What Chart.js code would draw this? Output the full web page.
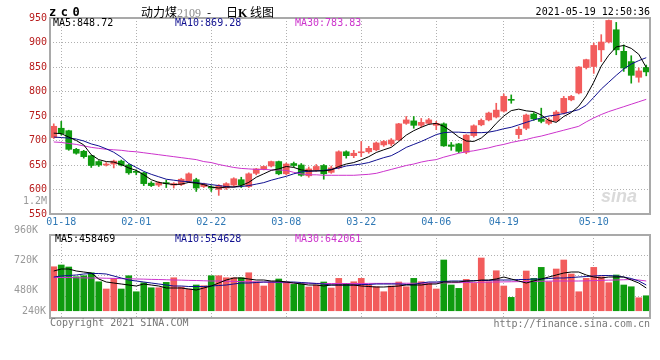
<!DOCTYPE html>
<html>
<head>
<meta charset="utf-8">
<script src="https://cdn.jsdelivr.net/npm/chart.js@4.4.1/dist/chart.umd.min.js"></script>
<style>
  body { margin: 0; background: #fff; }
  #wrap { position: relative; width: 660px; height: 360px; overflow: hidden; background: #fff; }
  canvas { position: absolute; left: 0; }
  .t { position: absolute; white-space: nowrap; font: 10px/12px "DejaVu Sans Mono", monospace; color: #000; }
</style>
</head>
<body>
<div id="wrap">
  <canvas id="price" width="660" height="232" style="top:0"></canvas>
  <canvas id="volume" width="660" height="142" style="top:218px"></canvas>

  <div class="t" style="left:49px;top:6px;font-weight:bold;font-size:12px;letter-spacing:4.5px">zc0</div>
  <div class="t" style="left:141px;top:5px;font:12px/14px 'Noto Sans CJK SC'">动力煤<span style="color:#8a8a8a;font-family:'Liberation Serif'">2109</span></div>
  <div class="t" style="left:207px;top:5px;font:12px/14px 'Noto Sans CJK SC'">-</div>
  <div class="t" style="left:226px;top:5px;font:12px/14px 'Noto Sans CJK SC'">日<b style="font-family:'Liberation Serif'">K</b> 线图</div>
  <div class="t" style="right:10px;top:6px">2021-05-19 12:50:36</div>

  <div class="t" style="left:53px;top:17px">MA5:848.72</div>
  <div class="t" style="left:175px;top:17px;color:#101090">MA10:869.28</div>
  <div class="t" style="left:295px;top:17px;color:#cc33cc">MA30:783.83</div>
  <div class="t" style="right:613px;top:195px;color:#999">1.2M</div>
  <div class="t" style="left:601px;top:186px;font:italic bold 18px/20px 'Liberation Sans';color:#dadada">sina</div>

  <div class="t" style="left:55px;top:233px">MA5:458469</div>
  <div class="t" style="left:175px;top:233px;color:#101090">MA10:554628</div>
  <div class="t" style="left:295px;top:233px;color:#cc33cc">MA30:642061</div>
  <div class="t" style="right:614px;top:305px;color:#999">240K</div>

  <div class="t" style="left:50px;top:317px;color:#777">Copyright 2021 SINA.COM</div>
  <div class="t" style="right:10px;top:318px;color:#777">http://finance.sina.com.cn</div>
</div>
<script>
// trading days shown on the daily K chart
const dates = [
  '01-15','01-18','01-19','01-20','01-21','01-22','01-25','01-26','01-27','01-28','01-29',
  '02-01','02-02','02-03','02-04','02-05','02-08','02-09','02-10','02-18','02-19',
  '02-22','02-23','02-24','02-25','02-26',
  '03-01','03-02','03-03','03-04','03-05','03-08','03-09','03-10','03-11','03-12',
  '03-15','03-16','03-17','03-18','03-19','03-22','03-23','03-24','03-25','03-26',
  '03-29','03-30','03-31','04-01','04-02','04-06','04-07','04-08','04-09',
  '04-12','04-13','04-14','04-15','04-16','04-19','04-20','04-21','04-22','04-23',
  '04-26','04-27','04-28','04-29','04-30','05-06','05-07','05-10','05-11','05-12',
  '05-13','05-14','05-17','05-18','05-19'
];
const tickDates = ['01-18', '02-01', '02-22', '03-08', '03-22', '04-06', '04-19', '05-10'];
const priceTicks = [550, 600, 650, 700, 750, 800, 850, 900, 950];
const volTicks = [960000, 720000, 480000];

const opens = [706,725,720,682,678,669,657,650,652,658, 650,637,634,613,609,614,609,610,617,620,
  606,605,600,603,609,620,606,633,642,648, 657,632,653,650,628,640,649,635,644,677,
  669,675,677,681,691,693,701,735,740,731, 735,731,734,691,693,676,710,732,742,748,
  760,784,712,725,754,744,735,740,756,783, 797,849,851,885,901,926,882,861,829,849];
const highs = [734,739,721,684,680,670,659,655,660,660, 652,640,635,616,616,619,614,623,634,623,
  613,608,610,614,624,625,634,643,648,658, 658,654,656,653,646,651,651,648,679,679,
  680,698,688,697,700,704,735,749,749,745, 745,739,736,696,694,712,732,744,758,776,
  795,793,728,754,757,766,746,761,790,792, 851,866,899,916,946,941,895,873,848,854];
const lows = [704,711,680,672,664,645,647,648,644,648, 631,630,608,606,606,604,603,608,614,596,
  604,596,588,600,606,604,604,630,640,646, 630,630,646,627,625,637,621,633,642,664,
  665,667,674,679,688,689,700,733,725,727, 733,722,688,680,675,673,707,730,740,746,
  758,776,704,722,741,736,732,739,754,781, 795,846,837,861,899,875,841,817,819,832];
const closes = [729,714,682,674,667,649,650,652,658,650, 634,635,612,608,614,612,612,621,632,603,
  611,603,608,612,622,609,632,642,647,657, 632,652,649,629,642,647,632,644,677,669,
  674,677,684,695,698,701,734,742,731,737, 742,735,689,688,678,711,730,741,756,762,
  790,782,723,752,744,739,742,758,786,790, 850,865,894,901,945,885,848,833,842,840];

const ma5 = [715,714,707,700,691,671,661,657,656,651, 644,639,630,620,614.5,612,610,611,614.5,613,
  610,605,603,605,605,608,614.5,625,632,639, 642,647,645,640,638,638,638,640,647,652,
  655,660.5,667,675.5,681,686,698,711,720,727, 733,735,729,719,707,699,698,705,718,735,
  750,761,764,760.5,759,752,741,737,749,757, 770,791,819,852,874,891,894,888,876,849];
const ma10 = [707,706,705,703,699,693,689,683,676,666, 653,645,637,631,626,621,619,617,616,614,
  612,610,608,606,605,606,608,611,614,619, 623,627,632,636,637,638,639,641,644,648,
  650,652,655,660,665,669,677,686,692,698, 705,712,716,717,717,716,716,716,717,720,
  724,727,732,737,742,746,750,752,755,759, 763,772,788,805,819,833,846,856,863,869];
const ma30 = [697,696,694,692,689,686,684,682,681,680, 678,677,675,673,671,669,667,665,663,661,
  657,655,651,648,645,643,642,641,641,640, 640,639,635,632,630,630,629,629,629,629,
  629,630,631,633,637,641,645,649,652,656, 659,661,666,670,674,677,679,682,685,689,
  692,696,699,702,706,709,713,717,721,725, 729,738,746,753,759,764,769,774,779,784];

const volumes = [672000,686000,670000,592000,600000,624000,552000,494000,579000,494000,
  600000,472000,544000,504000,504000,547000,584000,510000,494000,526000,
  520000,600000,600000,584000,584000,584000,624000,552000,518000,552000,
  574000,552000,531000,539000,510000,526000,550000,502000,579000,539000,
  552000,579000,526000,512000,472000,518000,550000,512000,579000,552000,
  539000,494000,726000,526000,499000,571000,539000,742000,552000,640000,
  518000,427000,499000,638000,579000,667000,552000,654000,726000,614000,
  472000,579000,667000,592000,544000,606000,526000,512000,424000,440000];
const volMa5 = [638000,654000,654000,638000,630000,622000,574000,550000,542000,534000,
  526000,518000,534000,526000,518000,502000,502000,502000,494000,486000,
  502000,518000,542000,566000,582000,582000,574000,566000,566000,558000,
  558000,550000,542000,534000,526000,526000,518000,526000,526000,526000,
  526000,518000,514000,510000,510000,514000,518000,526000,526000,526000,
  534000,534000,550000,550000,550000,558000,558000,566000,566000,574000,
  590000,574000,558000,542000,558000,574000,590000,606000,622000,630000,
  630000,606000,590000,582000,590000,590000,590000,566000,542000,502000];
const volMa10 = [590000,598000,602000,606000,614000,618000,618000,614000,598000,582000,
  566000,558000,550000,542000,534000,526000,518000,518000,514000,514000,
  514000,518000,522000,526000,534000,542000,542000,546000,550000,550000,
  550000,550000,550000,546000,542000,538000,534000,526000,526000,526000,
  526000,530000,530000,534000,534000,534000,534000,530000,530000,542000,
  550000,550000,554000,558000,558000,558000,562000,562000,562000,566000,
  566000,566000,570000,570000,574000,574000,578000,582000,582000,586000,
  590000,594000,598000,602000,602000,598000,590000,578000,558000,526000];
const volMa30 = [586000,586000,586000,584000,583000,582000,582000,580000,579000,577000,
  576000,574000,573000,571000,570000,568000,566000,565000,563000,562000,
  560000,558000,558000,556000,555000,553000,552000,550000,549000,547000,
  546000,544000,542000,541000,540000,539000,538000,538000,538000,538000,
  538000,538000,539000,539000,539000,539000,540000,540000,540000,541000,
  542000,542000,543000,544000,545000,546000,547000,548000,549000,550000,
  551000,552000,553000,554000,555000,556000,557000,558000,558000,558000,
  558000,559000,561000,563000,565000,566000,568000,570000,566000,558000];

const RED = '#f25c5c';
const GREEN = '#0f9b0f';
const GRID = '#b0b0b0';
const MONO = 'DejaVu Sans Mono';

const candleColors = closes.map((c, i) => (c >= opens[i] ? RED : GREEN));

// gray box round each panel
const frame = {
  id: 'frame',
  afterDraw(chart) {
    const { ctx, chartArea: a } = chart;
    ctx.save();
    ctx.strokeStyle = '#a9a9a9';
    ctx.lineWidth = 2;
    ctx.strokeRect(a.left, a.top, a.right - a.left, a.bottom - a.top);
    ctx.restore();
  }
};

const dateGrid = ctx => (tickDates.includes(dates[ctx.index]) ? GRID : 'rgba(0,0,0,0)');

function maLine(label, data, color) {
  return {
    type: 'line', label, data,
    borderColor: color, borderWidth: 1,
    pointRadius: 0, tension: 0, order: 0
  };
}

// Price panel: candles from floating bars
new Chart(document.getElementById('price'), {
  type: 'bar',
  data: {
    labels: dates,
    datasets: [
      maLine('MA5', ma5, '#000000'),
      maLine('MA10', ma10, '#101090'),
      maLine('MA30', ma30, '#cc33cc'),
      {
        label: 'body',
        data: opens.map((o, i) => [o, closes[i]]),
        backgroundColor: candleColors,
        barThickness: 6,
        minBarLength: 1,
        grouped: false,
        order: 2
      },
      {
        label: 'wick',
        data: lows.map((l, i) => [l, highs[i]]),
        backgroundColor: candleColors,
        barThickness: 1,
        grouped: false,
        order: 3
      }
    ]
  },
  options: {
    responsive: false,
    animation: false,
    layout: { padding: { left: 0, right: 10, top: 18, bottom: 0 } },
    plugins: { legend: { display: false }, tooltip: { enabled: false } },
    scales: {
      x: {
        offset: true,
        grid: { offset: false, drawTicks: false, color: dateGrid },
        border: { display: false, dash: [1, 2] },
        ticks: {
          autoSkip: false, maxRotation: 0, padding: 2,
          color: '#2f78b5', font: { family: MONO, size: 10 },
          callback: (v, i) => (tickDates.includes(dates[i]) ? dates[i] : '')
        },
        afterFit: s => { s.height = 18; }
      },
      y: {
        min: 550, max: 950,
        afterBuildTicks: s => { s.ticks = priceTicks.map(v => ({ value: v })); },
        grid: { drawTicks: false, color: GRID },
        border: { display: false, dash: [1, 2] },
        ticks: { padding: 3, color: '#b81c1c', font: { family: MONO, size: 10 } },
        afterFit: s => { s.width = 50; }
      }
    }
  },
  plugins: [frame]
});

// Volume panel
new Chart(document.getElementById('volume'), {
  type: 'bar',
  data: {
    labels: dates,
    datasets: [
      maLine('MA5', volMa5, '#000000'),
      maLine('MA10', volMa10, '#101090'),
      maLine('MA30', volMa30, '#cc33cc'),
      {
        label: 'volume',
        data: volumes,
        base: 320000,
        backgroundColor: candleColors,
        barThickness: 6,
        grouped: false,
        order: 2
      }
    ]
  },
  options: {
    responsive: false,
    animation: false,
    layout: { padding: { left: 0, right: 10, top: 17, bottom: 42 } },
    plugins: { legend: { display: false }, tooltip: { enabled: false } },
    scales: {
      x: {
        offset: true,
        grid: { offset: false, drawTicks: false, color: dateGrid },
        border: { display: false, dash: [1, 2] },
        ticks: { display: false },
        afterFit: s => { s.height = 0; }
      },
      y: {
        min: 262000, max: 926000,
        afterBuildTicks: s => { s.ticks = volTicks.map(v => ({ value: v })); },
        grid: { display: false },
        border: { display: false },
        ticks: {
          padding: 4, color: '#999', font: { family: MONO, size: 10 },
          callback: v => v / 1000 + 'K'
        },
        afterFit: s => { s.width = 50; }
      },
      yGrid: {
        position: 'right',
        min: -0.1, max: 4.05,
        afterBuildTicks: s => { s.ticks = [1, 2, 3].map(v => ({ value: v })); },
        grid: { drawTicks: false, color: GRID },
        border: { display: false, dash: [1, 2] },
        ticks: { display: false },
        afterFit: s => { s.width = 0; }
      }
    }
  },
  plugins: [frame]
});
</script>
</body>
</html>
